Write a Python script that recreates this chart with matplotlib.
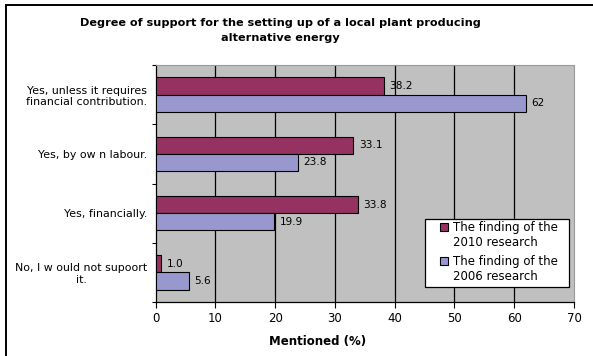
import matplotlib
matplotlib.use("Agg")
import matplotlib.pyplot as plt
from matplotlib.lines import Line2D
from matplotlib.patches import Rectangle
import numpy as np

plt.rcParams['font.family'] = ['DejaVu Sans']

categories = [
    "Yes, unless it requires\nfinancial contribution.",
    "Yes, by ow n labour.",
    "Yes, financially.",
    "No, I w ould not supoort\nit.",
]
values_2010 = [38.2, 33.1, 33.8, 1.0]
values_2006 = [62, 23.8, 19.9, 5.6]
series_names = ["The finding of the\n2010 research", "The finding of the\n2006 research"]
x_ticks = [0, 10, 20, 30, 40, 50, 60, 70]

W, H = 593, 356
fig = plt.figure(figsize=(W / 100, H / 100), dpi=100)
fig.patch.set_facecolor("white")


def fx(px):
    return px / W


def fy(py):
    return 1 - py / H


# plot area in pixel coordinates
left_px, right_px, top_px, bottom_px = 155.5, 574, 65, 302
ax = fig.add_axes([fx(left_px), fy(bottom_px),
                   (right_px - left_px) / W, (bottom_px - top_px) / H])
ax.set_facecolor("#C0C0C0")

c2010 = "#953262"
c2006 = "#9898CE"
colors = [c2010, c2006]
bar_h = 0.29
y = np.arange(len(categories))

ax.barh(y - bar_h / 2, values_2010, height=bar_h, color=c2010,
        edgecolor="black", linewidth=0.8, zorder=3)
ax.barh(y + bar_h / 2, values_2006, height=bar_h, color=c2006,
        edgecolor="black", linewidth=0.8, zorder=3)

for yi, v in zip(y, values_2010):
    ax.text(v + 0.9, yi - bar_h / 2, f"{v:.1f}", va="center", ha="left",
            fontsize=7.6, zorder=4)
for yi, v in zip(y, values_2006):
    ax.text(v + 0.9, yi + bar_h / 2, f"{v:g}", va="center", ha="left",
            fontsize=7.6, zorder=4)

ax.set_xlim(0, 70)
ax.set_ylim(len(categories) - 0.5, -0.5)

# vertical gridlines
for t in x_ticks[1:-1]:
    ax.axvline(t, color="black", linewidth=0.9, zorder=1)

ax.set_xticks(x_ticks)
ax.set_xticklabels([str(t) for t in x_ticks], fontsize=8.5)
ax.tick_params(axis="x", direction="out", length=4, width=0.8, pad=3,
               color="black")

# category boundaries carry the y ticks; labels sit at category centres
ax.set_yticks(np.arange(len(categories) + 1) - 0.5)
ax.set_yticklabels([])
ax.tick_params(axis="y", which="major", direction="out", length=3,
               width=0.8, color="black")
ax.set_yticks(y, minor=True)
ax.set_yticklabels(categories, minor=True, fontsize=7.9,
                   multialignment="center")
ax.tick_params(axis="y", which="minor", length=0, pad=6)

for side in ("left", "bottom"):
    ax.spines[side].set_color("black")
    ax.spines[side].set_linewidth(0.9)
for side in ("top", "right"):
    ax.spines[side].set_color("#9a9a9a")
    ax.spines[side].set_linewidth(0.8)

ax.set_xlabel("Mentioned (%)", fontsize=8.5, fontweight="bold")
ax.xaxis.set_label_coords((318 - left_px) / (right_px - left_px),
                          1 - (335 - top_px) / (bottom_px - top_px))

fig.text(fx(280), fy(30.5),
         "Degree of support for the setting up of a local plant producing\nalternative energy",
         ha="center", va="center", fontsize=8.1, fontweight="bold",
         linespacing=1.55)

# legend box with square swatches
fig.add_artist(Rectangle((fx(425), fy(287)), (569 - 425) / W, (287 - 219) / H,
                         transform=fig.transFigure, facecolor="white",
                         edgecolor="black", linewidth=0.9, zorder=5))
for i, (name, col) in enumerate(zip(series_names, colors)):
    y_top = 227 + i * 34
    fig.add_artist(Line2D([fx(443.5)], [fy(y_top)], marker="s", markersize=5.5,
                          markerfacecolor=col, markeredgecolor="black",
                          markeredgewidth=0.8, linestyle="none",
                          transform=fig.transFigure, zorder=6))
    fig.text(fx(453), fy(y_top - 6.5), name, ha="left", va="top", fontsize=8.5,
             linespacing=1.25, zorder=6)

# outer chart frame edges
fig.add_artist(Line2D([fx(5.5), fx(5.5)], [0, fy(4.5)], color="black",
                      linewidth=1.4, transform=fig.transFigure))
fig.add_artist(Line2D([fx(5.5), 1], [fy(4.5), fy(4.5)], color="black",
                      linewidth=1.4, transform=fig.transFigure))

fig.savefig("out.png", dpi=100)
